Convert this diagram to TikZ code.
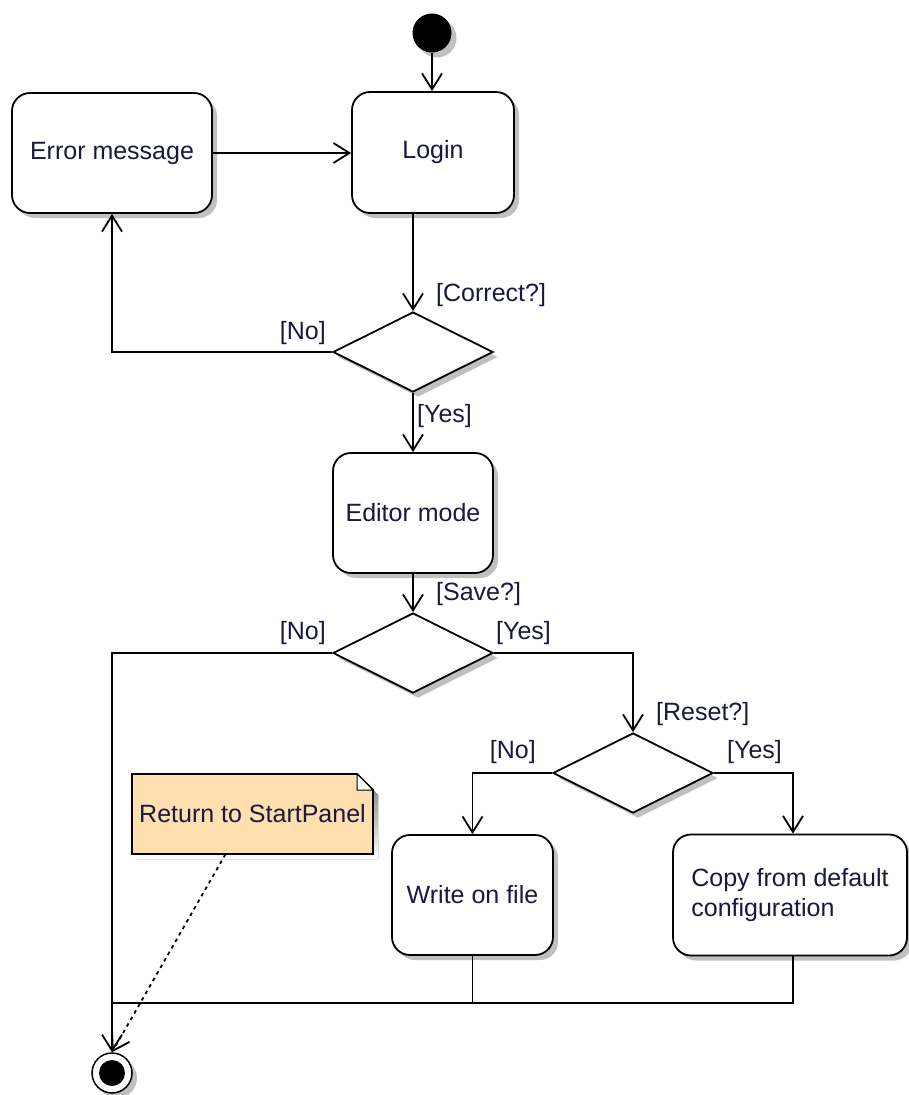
\documentclass[tikz,border=0pt]{standalone}
\usepackage{fontspec}
\setmainfont{Liberation Sans}
\usetikzlibrary{arrows.meta,shapes.geometric,shadows}
\definecolor{ink}{RGB}{24,24,64}
\definecolor{notefill}{RGB}{255,223,174}
\definecolor{shade}{RGB}{192,192,192}
\begin{document}
\begin{tikzpicture}[x=1pt,y=-1pt,
  every node/.style={font=\fontsize{25}{30}\selectfont, text=ink},
  shadowed/.style={drop shadow={shadow xshift=5pt,shadow yshift=-5pt,fill=shade,opacity=1}},
  action/.style={draw, line width=1.8pt, rounded corners=18pt, fill=white, shadowed, inner sep=0pt},
  decision/.style={draw, diamond, line width=1.8pt, fill=white, shadowed, inner sep=0pt,
                   minimum width=160pt, minimum height=80pt},
  flow/.style={line width=1.8pt, -{Straight Barb[length=16pt,width=20pt,line width=1.8pt]}},
  plain/.style={line width=1.8pt},
  guard/.style={inner sep=0pt},
]
\useasboundingbox (0,0) rectangle (909,1095);

% initial and final states
\node[circle, fill=black, minimum size=39pt, inner sep=0pt, shadowed] (start) at (432,33) {};
\node[circle, draw, line width=1.5pt, fill=white, minimum size=40pt, inner sep=0pt, shadowed,
      path picture={\fill[black] (path picture bounding box.center) circle (13pt);}] (end) at (112,1073) {};

% actions
\node[action, minimum width=162pt, minimum height=121pt] (login) at (433,152.5) {Login};
\node[action, minimum width=200pt, minimum height=120pt] (err) at (112,153) {Error message};
\node[action, minimum width=160pt, minimum height=120pt] (editor) at (413,513) {Editor mode};
\node[action, minimum width=161pt, minimum height=120pt] (write) at (472.5,895) {Write on file};
\node[action, minimum width=234pt, minimum height=121pt, align=left] (copy) at (790,895)
  {Copy from default\\configuration};

% decisions
\node[decision] (d1) at (413,352) {};
\node[decision] (d2) at (413,653) {};
\node[decision] (d3) at (633,773) {};

% note
\fill[shade] (137,779) -- (362,779) -- (378,795) -- (378,859) -- (137,859) -- cycle;
\filldraw[fill=notefill, line width=1.8pt] (132,774) -- (357,774) -- (373,790) -- (373,854) -- (132,854) -- cycle;
\filldraw[fill=white, line width=1pt] (357,774) -- (357,790) -- (373,790) -- cycle;
\node[minimum width=241pt, minimum height=80pt, inner sep=0pt] (note) at (252.5,814) {Return to StartPanel};

% control flow
\draw[flow] (start.south) -- (start.south |- login.north);
\draw[flow] (err.east) -- (err.east -| login.west);
\draw[flow] (d1.north |- login.south) -- (d1.north);
\draw[flow] (d1.west) -| (err.south);
\draw[flow] (d1.south) -- (editor.north);
\draw[flow] (editor.south) -- (d2.north);
\draw[flow] (d2.west) -| (end.north);
\draw[flow] (d2.east) -| (d3.north);
\draw[flow] (d3.west) -| (write.north);
\draw[flow] (d3.east) -| ([xshift=3pt]copy.north);
\coordinate (join) at (112,1003);
\draw[plain] (write.south) |- (join);
\draw[plain] ([xshift=3pt]copy.south) |- (join);

% note anchor
\draw[line width=1.8pt, dash pattern=on 3.5pt off 4pt,
      -{Straight Barb[length=16pt,width=20pt,line width=1.8pt]}]
  ([xshift=-27pt]note.south) -- (end.north);

% guards
\node[guard, anchor=west] (gcorrect) at (436,295) {[Correct?]};
\node[guard, anchor=east] (gno1) at (326,333) {[No]};
\node[guard, anchor=west] (gyes1) at (417,416) {[Yes]};
\node[guard, anchor=west] (gsave) at (436,594) {[Save?]};
\node[guard, anchor=east] (gno2) at (326,633) {[No]};
\node[guard, anchor=west] (gyes2) at (496,633) {[Yes]};
\node[guard, anchor=west] (greset) at (656,714) {[Reset?]};
\node[guard, anchor=east] (gno3) at (536,752) {[No]};
\node[guard, anchor=west] (gyes3) at (727,752) {[Yes]};
\end{tikzpicture}
\end{document}
